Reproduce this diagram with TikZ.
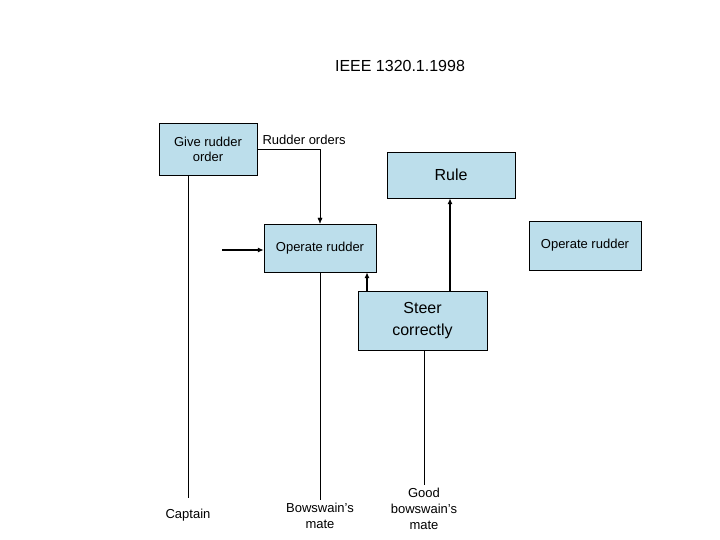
\documentclass[tikz,border=0pt]{standalone}
\usepackage{fontspec}
\setmainfont{Liberation Sans}
\usetikzlibrary{arrows.meta}
\tikzset{
	MyBox/.style={draw=black,fill=cyan!25!white!85!gray,inner sep=0pt,align=center,font=\fontsize{13}{15}\selectfont},
	MyBig/.style={MyBox,font=\fontsize{16}{22}\selectfont},
	MyLabel/.style={align=center,font=\fontsize{13}{16}\selectfont},
	MyArrow/.style={-{Latex[length=6pt,width=5pt]},line width=1.6pt}
		}
\begin{document}
\begin{tikzpicture}[x=1pt,y=-1pt]
	\useasboundingbox (0,0) rectangle (720,540);
	\node (title) at (400,66) {\fontsize{16}{18}\selectfont IEEE 1320.1.1998};
	\node[MyBox,minimum width=98pt,minimum height=52pt] (give) at (208,149) {Give rudder\\order};
	\node[MyBig,minimum width=128pt,minimum height=46pt] (rule) at (451,175) {Rule};
	\node[MyBox,minimum width=112pt,minimum height=48pt] (opA) at (320,248) {Operate rudder};
	\node[MyBox,minimum width=112pt,minimum height=49pt] (opB) at (585,245.5) {Operate rudder};
	\node[MyBig,minimum width=129pt,minimum height=59pt] (steer) at (422.5,320.5) {Steer\\correctly};
	\node[MyLabel,anchor=west] (orders) at (259,140) {Rudder orders};
	\node[MyLabel] (captain) at (188,515) {Captain};
	\node[MyLabel] (bmate) at (320,516) {Bowswain's\\mate};
	\node[MyLabel] (gmate) at (424,509) {Good\\bowswain's\\mate};
	\coordinate (inA) at (222,250);
	% connectors
	\draw[-{Latex[length=6pt,width=5pt]}] (give.east |- 0,149) -| (opA.north);
	\draw[MyArrow] (inA) -- (inA -| opA.west);
	\draw[MyArrow] (steer.north -| 367,0) -- (opA.south -| 367,0);
	\draw[MyArrow] (steer.north -| 450,0) -- (rule.south -| 450,0);
	\draw (give.south -| 188,0) -- (captain.north |- 0,498);
	\draw (opA.south) -- (bmate.north);
	\draw (steer.south -| 424,0) -- (gmate.north);
\end{tikzpicture}
\end{document}
